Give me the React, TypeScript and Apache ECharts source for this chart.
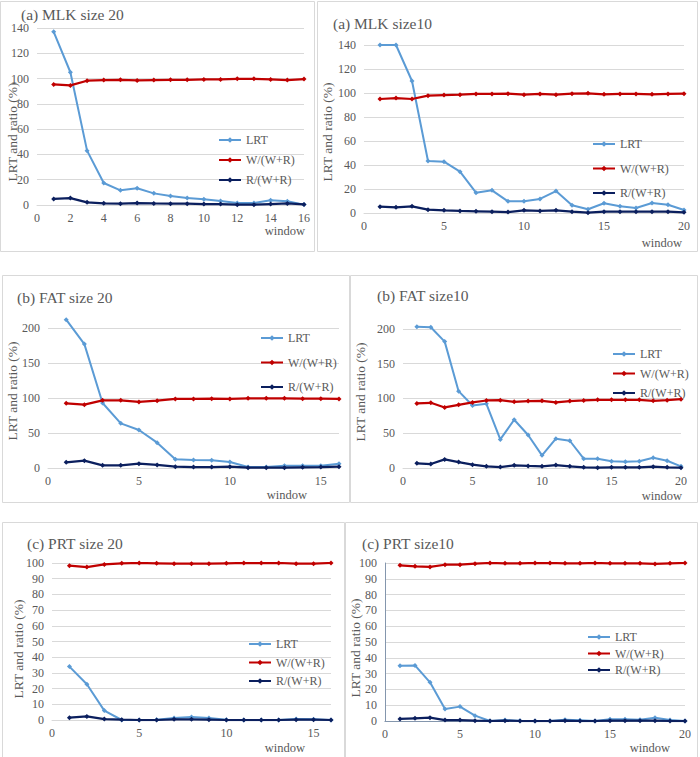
import React, { useEffect, useRef } from "react";
import * as echarts from "echarts";

const windows16 = [1, 2, 3, 4, 5, 6, 7, 8, 9, 10, 11, 12, 13, 14, 15, 16];
const windows20 = [1, 2, 3, 4, 5, 6, 7, 8, 9, 10, 11, 12, 13, 14, 15, 16, 17, 18, 19, 20];
const seriesNames = ["LRT", "W/(W+R)", "R/(W+R)"];

const mlk20Lrt = [137, 105, 43, 17.4, 11.6, 13.2, 9.2, 7.1, 5.5, 4.5, 3.2, 1.6, 1.6, 3.7, 2.9, 0.3];
const mlk20W = [95.4, 94.6, 98.3, 98.8, 99, 98.5, 98.8, 99, 99, 99.3, 99.3, 99.8, 99.8, 99.3, 98.8, 99.6];
const mlk20R = [4.8, 5.5, 2.1, 1.3, 1.0, 1.5, 1.2, 1.0, 1.0, 0.7, 0.7, 0.2, 0.2, 0.7, 1.2, 0.4];

const mlk10Lrt = [140, 140, 110, 43.3, 42.8, 34.4, 16.9, 18.9, 9.7, 9.7, 11.7, 18.3, 6.4, 3.1, 8.1, 5.6, 4.2, 8.3, 6.9, 2.5];
const mlk10W = [95, 95.8, 95, 97.8, 98.3, 98.6, 99.2, 99.2, 99.4, 98.6, 99.2, 98.6, 99.4, 99.7, 98.9, 99.2, 99.2, 98.9, 99.2, 99.4];
const mlk10R = [5.3, 4.7, 5.6, 2.8, 2.2, 1.7, 1.4, 1.1, 0.8, 2.2, 1.7, 2.2, 1.1, 0.3, 1.1, 1.1, 1.1, 1.1, 1.1, 0.6];

const fat20Lrt = [211.9, 177, 92.9, 63.8, 54.3, 36.2, 12.4, 11.4, 11, 8.6, 1.4, 1.4, 3.3, 3.3, 3.3, 6.2];
const fat20W = [92.4, 90.5, 96.7, 96.7, 94.3, 96.2, 98.6, 98.6, 99, 98.6, 99.5, 99.5, 99.5, 99, 99, 98.6];
const fat20R = [8.1, 10.5, 3.8, 3.8, 6.2, 4.3, 1.9, 1.4, 1.4, 1.9, 0.5, 0.5, 0.5, 1, 1.4, 1.9];

const fat10Lrt = [203.3, 202.4, 181.8, 110.5, 90, 92.3, 41.1, 69.4, 47.4, 18.2, 42.1, 39.2, 13.4, 13.4, 9.6, 9.1, 9.6, 14.8, 10.5, 2.4];
const fat10W = [92.8, 93.8, 87.1, 90.9, 94.3, 97.1, 97.6, 95.2, 96.2, 96.7, 94.3, 96.2, 97.1, 98.1, 98.1, 98.1, 98.1, 96.7, 97.6, 99];
const fat10R = [6.7, 5.7, 12.4, 8.6, 4.8, 2.4, 1.4, 3.8, 2.9, 2.4, 4.3, 2.4, 1, 0.5, 1, 1, 1, 1.9, 1, 0.5];

const prt20Lrt = [34, 22.8, 6, 0, 0, 0.2, 1.3, 1.9, 1.3, 0.2, 0, 0, 0, 0.6, 0.4, 0];
const prt20W = [98.3, 97.4, 99.1, 99.8, 100, 99.8, 99.6, 99.6, 99.6, 99.8, 100, 100, 100, 99.6, 99.6, 100];
const prt20R = [1.5, 2.3, 0.6, 0.2, 0, 0, 0.4, 0.4, 0.2, 0, 0, 0, 0, 0.2, 0.2, 0];

const prt10Lrt = [35, 35.2, 24.5, 7.6, 9.1, 3.4, 0, 0.6, 0.2, 0, 0, 0.8, 0.4, 0, 1.1, 1.1, 0.8, 2.1, 0.6, 0];
const prt10W = [98.5, 97.9, 97.5, 98.9, 98.9, 99.6, 100, 99.8, 99.8, 100, 100, 99.8, 99.8, 100, 99.8, 99.8, 99.8, 99.4, 99.8, 100];
const prt10R = [1.3, 1.7, 2.1, 0.6, 0.6, 0.2, 0, 0.2, 0, 0, 0, 0.2, 0, 0, 0.2, 0.2, 0.2, 0.2, 0, 0];

const FONT = "Liberation Serif";
const COLORS = ["#5b9bd5", "#c00000", "#0b1f5e"];
const TEXT = "#595959";
const GRIDC = "#d9d9d9";

const panels = [
  { title: "(a) MLK size 20", titlePos: [21, 6], grid: { left: 37, top: 28, width: 267, height: 177 }, xs: windows16, xMax: 16, xInt: 2, yMax: 140, yInt: 20, data: [mlk20Lrt, mlk20W, mlk20R], legend: [218, 133, 6], yName: [12, 132], win: [305, 231], border: [0.5, 1.5, 314, 250], frame: false },
  { title: "(a) MLK size10", titlePos: [333, 15], grid: { left: 364, top: 45, width: 320, height: 168 }, xs: windows20, xMax: 20, xInt: 5, yMax: 140, yInt: 20, data: [mlk10Lrt, mlk10W, mlk10R], legend: [592, 137, 10.5], yName: [327, 132], win: [682, 243], border: [317.5, 1.5, 380, 250], frame: false },
  { title: "(b) FAT size 20", titlePos: [17, 289], grid: { left: 48, top: 314, width: 291, height: 154 }, xs: windows16, xMax: 16, xInt: 5, yMax: 220, yInt: 50, data: [fat20Lrt, fat20W, fat20R], legend: [260, 331, 10.5], yName: [12, 391], win: [307, 495], border: [2.5, 275.5, 347, 227], frame: false },
  { title: "(b) FAT size10", titlePos: [377, 287], grid: { left: 403, top: 322, width: 278, height: 146 }, xs: windows20, xMax: 20, xInt: 5, yMax: 210, yInt: 50, data: [fat10Lrt, fat10W, fat10R], legend: [612, 347, 5.5], yName: [360, 392], win: [682, 496], border: [350.5, 275.5, 347, 227], frame: false },
  { title: "(c) PRT size 20", titlePos: [27, 535], grid: { left: 52, top: 563, width: 279, height: 157 }, xs: windows16, xMax: 16, xInt: 5, yMax: 100, yInt: 10, data: [prt20Lrt, prt20W, prt20R], legend: [248, 637, 4.5], yName: [18, 649], win: [305, 748], border: [2.5, 522.5, 342, 240], frame: false },
  { title: "(c) PRT size10", titlePos: [362, 535], grid: { left: 385, top: 563, width: 300, height: 158 }, xs: windows20, xMax: 20, xInt: 5, yMax: 100, yInt: 10, data: [prt10Lrt, prt10W, prt10R], legend: [587, 630, 2.5], yName: [355, 648], win: [670, 748], border: [345.5, 522.5, 352, 240], frame: true },
];

function buildOption() {
  const option: any = {
    animation: false,
    textStyle: { fontFamily: FONT },
    title: [], grid: [], xAxis: [], yAxis: [], series: [], legend: [], graphic: [],
  };
  panels.forEach((p, i) => {
    option.title.push({
      text: p.title, left: p.titlePos[0], top: p.titlePos[1], padding: 0,
      textStyle: { fontFamily: FONT, fontSize: 15.5, fontWeight: "normal", color: TEXT },
    });
    option.grid.push({ ...p.grid, containLabel: false });
    const xi = option.xAxis.length;
    const xAligned = p.xMax % p.xInt === 0;
    option.xAxis.push({
      type: "value", gridIndex: i, min: 0, max: p.xMax, interval: p.xInt,
      axisLine: { show: true, onZero: false, lineStyle: { color: GRIDC, width: 1 } },
      axisTick: { show: false }, splitLine: { show: false },
      axisLabel: { color: TEXT, fontFamily: FONT, fontSize: 12, margin: 7, showMaxLabel: xAligned ? true : false, showMinLabel: true },
    });
    const yi = option.yAxis.length;
    const yAligned = p.yMax % p.yInt === 0;
    option.yAxis.push({
      type: "value", gridIndex: i, min: 0, max: p.yMax, interval: p.yInt,
      axisLine: { show: false }, axisTick: { show: false },
      splitLine: { show: true, showMaxLine: yAligned, lineStyle: { color: GRIDC, width: 1 } },
      axisLabel: { color: TEXT, fontFamily: FONT, fontSize: 12, margin: 8, showMaxLabel: yAligned ? true : false },
    });
    if (p.frame) {
      option.xAxis.push({
        type: "value", gridIndex: i, position: "top", min: 0, max: p.xMax, interval: p.xInt,
        axisLine: { show: true, lineStyle: { color: "#8496ad", width: 1 } },
        axisTick: { show: false }, axisLabel: { show: false }, splitLine: { show: false },
      });
      option.yAxis.push({
        type: "value", gridIndex: i, position: "right", min: 0, max: p.yMax, interval: p.yInt,
        axisLine: { show: true, lineStyle: { color: "#8496ad", width: 1 } },
        axisTick: { show: false }, axisLabel: { show: false }, splitLine: { show: false },
      });
    }
    seriesNames.forEach((name, k) => {
      option.series.push({
        type: "line", name, xAxisIndex: xi, yAxisIndex: yi,
        data: p.xs.map((x, j) => [x, p.data[k][j]]),
        symbol: "diamond", symbolSize: 5, showSymbol: true,
        lineStyle: { width: k === 0 ? 2 : 2.25, color: COLORS[k] },
        itemStyle: { color: COLORS[k] },
        z: 2 + k,
      });
    });
    option.legend.push({
      data: seriesNames, orient: "vertical", left: p.legend[0], top: p.legend[1], itemGap: p.legend[2],
      itemWidth: 22, itemHeight: 7, padding: 0, selectedMode: false,
      textStyle: { fontFamily: FONT, fontSize: 12, color: TEXT, lineHeight: 14 },
    });
    option.graphic.push({
      type: "rect", silent: true, z: -1,
      shape: { x: p.border[0], y: p.border[1], width: p.border[2], height: p.border[3] },
      style: { fill: "none", stroke: GRIDC, lineWidth: 1 },
    });
    option.graphic.push({
      type: "text", silent: true, x: p.yName[0], y: p.yName[1], rotation: Math.PI / 2,
      style: { text: "LRT and ratio (%)", fill: TEXT, fontFamily: FONT, fontSize: 13.5, align: "center", verticalAlign: "middle" },
    });
    option.graphic.push({
      type: "text", silent: true, x: p.win[0], y: p.win[1],
      style: { text: "window", fill: TEXT, fontFamily: FONT, fontSize: 12.5, align: "right", verticalAlign: "middle" },
    });
  });
  return option;
}

export default function App() {
  const ref = useRef<HTMLDivElement>(null);
  useEffect(() => {
    if (!ref.current) return;
    const chart = echarts.init(ref.current, null, { renderer: "svg" });
    chart.setOption(buildOption());
    return () => chart.dispose();
  }, []);
  return (
    <div
      ref={ref}
      style={{ position: "absolute", left: 0, top: 0, width: 700, height: 757, background: "#fff" }}
    />
  );
}
